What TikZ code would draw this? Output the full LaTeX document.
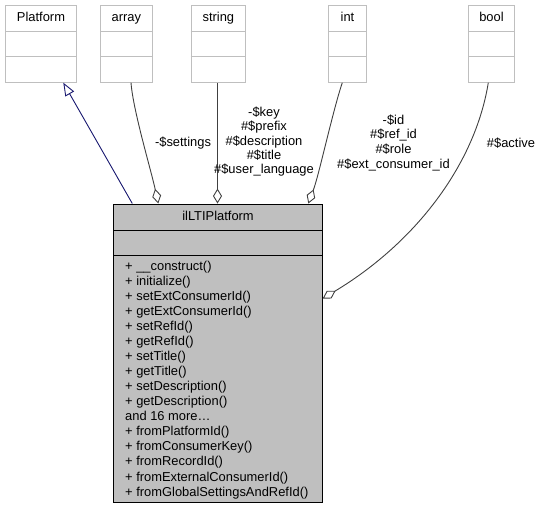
\documentclass[tikz,border=0pt]{standalone}
\usepackage{fontspec}
\setmainfont{Liberation Sans}
\usetikzlibrary{arrows.meta,calc}
\definecolor{edgegrey}{HTML}{404040}
\definecolor{boxgrey}{HTML}{BFBFBF}
\definecolor{navyline}{HTML}{191970}
\begin{document}
\begin{tikzpicture}[x=1pt,y=-1pt,
  font=\fontsize{12.9}{14.5}\selectfont,
  typebox/.style={draw=boxgrey, fill=white, line width=1pt, minimum height=76.7pt, inner sep=0pt, anchor=north west},
  mainbox/.style={draw=black, fill=boxgrey, line width=1pt, inner sep=0pt, anchor=north west, minimum width=208.4pt, minimum height=298.2pt},
  txt/.style={inner sep=0pt, text height=9.3pt, text depth=2.7pt},
  lbl/.style={inner sep=0pt, align=center},
  agg/.style={draw=edgegrey, line width=0.9pt, {Diamond[open,length=15pt,width=9pt,line width=0.9pt]}-},
  inh/.style={draw=navyline, line width=0.9pt, -{Triangle[open,length=13pt,width=10pt,line width=0.9pt]}}
  ]
\useasboundingbox (0,0) rectangle (541,507);

% top boxes
\node[typebox, minimum width=71pt] (platform) at (5,5) {};
\node[typebox, minimum width=51.7pt] (array) at (100,5) {};
\node[typebox, minimum width=54.3pt] (string) at (190.7,5) {};
\node[typebox, minimum width=38pt] (int) at (328,5) {};
\node[typebox, minimum width=46pt] (bool) at (468,5) {};
\foreach \b/\t in {platform/Platform, array/array, string/string, int/int, bool/bool}{
  \node[txt] (\b lbl) at ($(\b.north)+(0,13.3)$) {\t};
  \draw[boxgrey, line width=1pt] ($(\b.north west)+(0,26.7)$) -- ($(\b.north east)+(0,26.7)$);
  \draw[boxgrey, line width=1pt] ($(\b.north west)+(0,51.7)$) -- ($(\b.north east)+(0,51.7)$);
}

% main class
\node[mainbox] (main) at (113.3,203.5) {};
\draw[black, line width=1pt] ($(main.north west)+(0,27.2)$) -- ($(main.north east)+(0,27.2)$);
\draw[black, line width=1pt] ($(main.north west)+(0,51.5)$) -- ($(main.north east)+(0,51.5)$);
\node[txt] (title) at ($(main.north)+(0,13.4)$) {ilLTIPlatform};
\foreach \t [count=\i from 0] in {{+ \_\_construct()}, {+ initialize()}, {+ setExtConsumerId()}, {+ getExtConsumerId()}, {+ setRefId()}, {+ getRefId()}, {+ setTitle()}, {+ getTitle()}, {+ setDescription()}, {+ getDescription()}, {and 16 more\ldots}, {+ fromPlatformId()}, {+ fromConsumerKey()}, {+ fromRecordId()}, {+ fromExternalConsumerId()}, {+ fromGlobalSettingsAndRefId()}}{
  \node[txt, anchor=west] (m\i) at ($(main.north west)+(11.7,63.8+15.03*\i)$) {\t};
}

% connectors
\draw[inh] ($(main.north west)+(19,0)$) -- ($(platform.south west)+(58.3,0)$);
\draw[agg] ($(main.north west)+(45,0)$) .. controls (151,170) and (133,110) .. ($(array.south west)+(31,0)$);
\draw[agg] ($(main.north west)+(104.2,0)$) -- ($(string.south west)+(26.8,0)$);
\draw[agg] ($(main.north west)+(195,0)$) .. controls (319,175) and (333,110) .. ($(int.south west)+(14.3,0)$);
\draw[agg] ($(main.north east)+(0,95)$) .. controls (415,243) and (475,165) .. ($(bool.south west)+(20.3,0)$);

% labels
\node[lbl] (lsettings) at (183,142.7) {-\$settings};
\node[lbl, font=\fontsize{12.9}{14.2}\selectfont] (lstring) at (264,141.7) {-\$key\\\#\$prefix\\\#\$description\\\#\$title\\\#\$user\_language};
\node[lbl, font=\fontsize{12.9}{14.8}\selectfont] (lint) at (393.5,142.8) {-\$id\\\#\$ref\_id\\\#\$role\\\#\$ext\_consumer\_id};
\node[lbl] (lactive) at (511,142.7) {\#\$active};
\end{tikzpicture}
\end{document}
